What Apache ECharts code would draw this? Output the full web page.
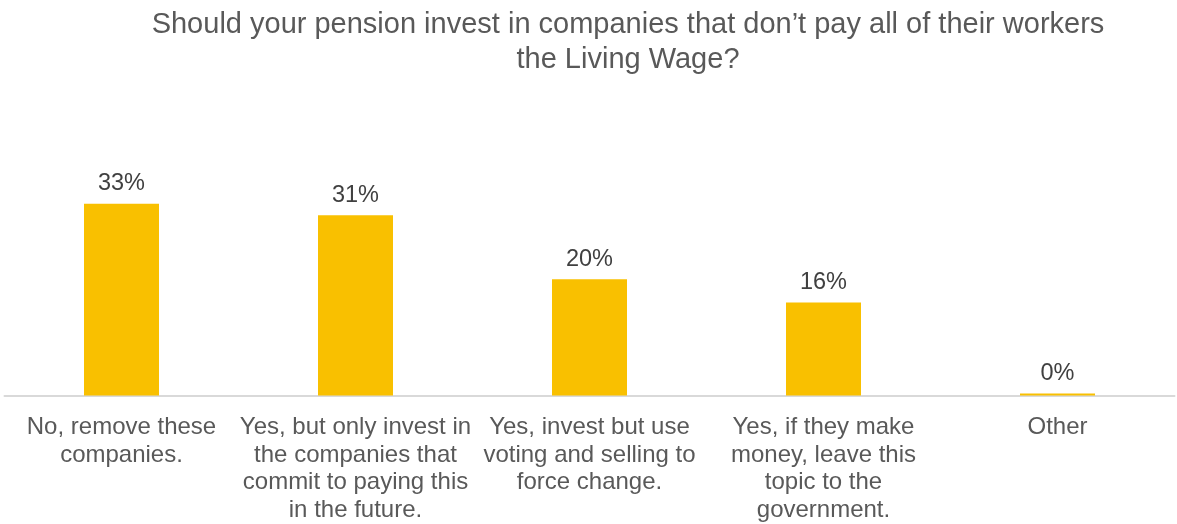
<!DOCTYPE html>
<html>
<head>
<meta charset="utf-8">
<script src="https://cdn.jsdelivr.net/npm/echarts@6/dist/echarts.min.js"></script>
<style>
  html, body { margin: 0; padding: 0; background: #ffffff; }
  #chart { width: 1177px; height: 524px; }
</style>
</head>
<body>
<div id="chart"></div>
<script>
// Survey answers (axis labels, pre-wrapped) and share of respondents (%)
const categories = [
  'No, remove these\ncompanies.',
  'Yes, but only invest in\nthe companies that\ncommit to paying this\nin the future.',
  'Yes, invest but use\nvoting and selling to\nforce change.',
  'Yes, if they make\nmoney, leave this\ntopic to the\ngovernment.',
  'Other'
];
const shares = [33, 31, 20, 16, 0];

const FONT = '"Liberation Sans", Arial, sans-serif';

const chart = echarts.init(document.getElementById('chart'));
chart.setOption({
  backgroundColor: '#ffffff',
  animation: false,
  title: {
    text: 'Should your pension invest in companies that don\u2019t pay all of their workers\nthe Living Wage?',
    left: 623,
    top: 2,
    textAlign: 'center',
    textStyle: {
      fontFamily: FONT,
      fontSize: 29,
      fontWeight: 'normal',
      color: '#595959',
      lineHeight: 35
    }
  },
  grid: { left: 4.5, right: 2.5, top: 163, bottom: 127, containLabel: false },
  xAxis: {
    type: 'category',
    data: categories,
    axisLine: { lineStyle: { color: '#d9d9d9', width: 2 } },
    axisTick: { show: false },
    axisLabel: {
      interval: 0,
      margin: 18,
      fontFamily: FONT,
      fontSize: 24,
      lineHeight: 27.6,
      color: '#595959'
    }
  },
  yAxis: {
    type: 'value',
    min: 0,
    max: 40,
    show: false,
    splitLine: { show: false }
  },
  series: [{
    type: 'bar',
    data: shares,
    barWidth: 75,
    barMinHeight: 2,
    itemStyle: { color: '#F9C000' },
    label: {
      show: true,
      position: 'top',
      distance: 8,
      formatter: '{c}%',
      fontFamily: FONT,
      fontSize: 23.5,
      color: '#404040'
    }
  }]
});
</script>
</body>
</html>
